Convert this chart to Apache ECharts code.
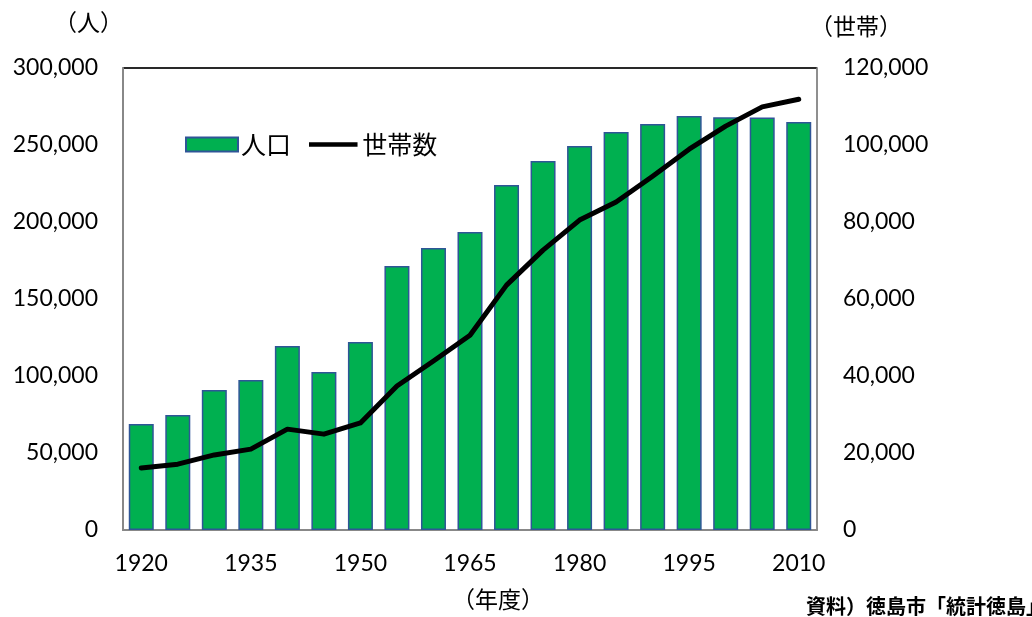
<!DOCTYPE html>
<html>
<head>
<meta charset="utf-8">
<script src="https://cdn.jsdelivr.net/npm/echarts@6/dist/echarts.min.js"></script>
<style>
html,body{margin:0;padding:0;background:#fff;overflow:hidden;}
#chart{width:1032px;height:617px;}
</style>
</head>
<body>
<div id="chart"></div>
<script>
// 年度
var years = ['1920','1925','1930','1935','1940','1945','1950','1955','1960','1965',
	'1970','1975','1980','1985','1990','1995','2000','2005','2010'];
// 人口
var population = [68800,74700,90900,97400,119500,102600,122100,171400,183100,193500,
	224000,239600,249400,258400,263600,268800,268000,267800,264900];
// 世帯数
var households = [16100,17100,19500,21000,26200,24900,27800,37400,43900,50600,
	63600,72700,80500,85200,91900,98900,104900,109900,111900];

var font = '"Noto Sans CJK JP", "Noto Sans", sans-serif';
var numFont = 'Lato, "Noto Sans", sans-serif';
var chart = echarts.init(document.getElementById('chart'));

// 凡例の線アイコン（上下に空の点を置いて太さを保つ）
var lineIcon = 'path://M0,0 L0.01,0 M0,5 L52,5 L52,10 L0,10 Z M0,15 L0.01,15';

chart.setOption({
	backgroundColor: '#fff',
	animation: false,
	textStyle: { fontFamily: font },
	grid: { left: 123, right: 215, top: 68, bottom: 87, show: true, borderColor: '#888', borderWidth: 1.5 },
	legend: {
		left: 180, top: 127, itemGap: 18, itemWidth: 52, itemHeight: 14,
		textStyle: { fontSize: 25, color: '#000', fontFamily: font, padding: [0, 0, 0, -2] },
		data: [
			{ name: '人口', icon: 'rect' },
			{ name: '世帯数', icon: lineIcon, itemStyle: { color: '#000' } }
		]
	},
	xAxis: {
		type: 'category',
		data: years,
		axisLine: { lineStyle: { color: '#888', width: 2 } },
		axisTick: { show: false },
		axisLabel: { interval: 2, fontSize: 23, color: '#000', margin: 22, fontFamily: numFont }
	},
	yAxis: [{
		type: 'value', min: 0, max: 300000, interval: 50000,
		splitLine: { show: false },
		axisLine: { show: true, lineStyle: { color: '#888', width: 2 } },
		axisLabel: { fontSize: 23, color: '#000', margin: 25, fontFamily: numFont,
			formatter: function (v) { return v.toLocaleString('en-US'); } }
	}, {
		type: 'value', min: 0, max: 120000, interval: 20000,
		splitLine: { show: false },
		axisLine: { show: true, lineStyle: { color: '#888', width: 1.5 } },
		axisLabel: { fontSize: 23, color: '#000', margin: 26, fontFamily: numFont,
			formatter: function (v) { return v.toLocaleString('en-US'); } }
	}],
	graphic: [
		{ type: 'text', left: 54, top: 11, style: { text: '（人）', fill: '#000', font: '23px ' + font } },
		{ type: 'text', left: 810, top: 15, style: { text: '（世帯）', fill: '#000', font: '23px ' + font } },
		{ type: 'text', left: 452, top: 588, style: { text: '（年度）', fill: '#000', font: '23px ' + font } },
		{ type: 'text', left: 806, top: 596, style: { text: '資料）徳島市「統計徳島」', fill: '#000', font: 'bold 20px ' + font } },
		// 枠の上辺は黒
		{ type: 'line', shape: { x1: 123, y1: 68, x2: 817, y2: 68 }, style: { stroke: '#000', lineWidth: 1.5 } }
	],
	series: [{
		name: '人口',
		type: 'bar',
		data: population,
		barWidth: 25,
		itemStyle: { color: '#00B050', borderColor: '#2F5597', borderWidth: 1.5 }
	}, {
		name: '世帯数',
		type: 'line',
		yAxisIndex: 1,
		data: households,
		symbol: 'none',
		lineStyle: { color: '#000', width: 5, cap: 'round', join: 'round' },
		itemStyle: { color: '#000' }
	}]
});
</script>
</body>
</html>
